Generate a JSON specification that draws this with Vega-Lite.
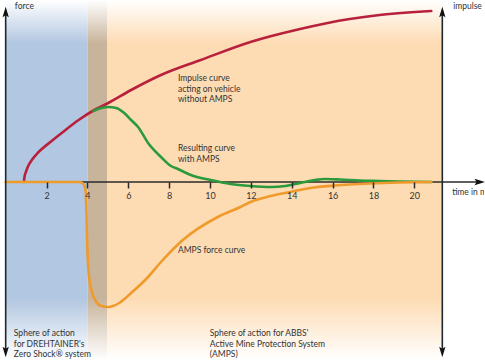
{
  "$schema": "https://vega.github.io/schema/vega-lite/v6.json",
  "width": 485,
  "height": 360,
  "padding": 0,
  "autosize": {"type": "fit", "contains": "padding"},
  "background": "#ffffff",
  "config": {"view": {"stroke": null}, "font": "Lato"},
  "datasets": {
    "bands": [
      {"zone": "blue", "t": 0, "t2": 4.0},
      {"zone": "gray", "t": 4.0, "t2": 4.98},
      {"zone": "orange", "t": 4.98, "t2": 21.37}
    ],
    "curves": [
      {"series": "impulse", "t": 0.89, "v": 0},
      {"series": "impulse", "t": 0.92, "v": 5},
      {"series": "impulse", "t": 0.99, "v": 10},
      {"series": "impulse", "t": 1.08, "v": 15},
      {"series": "impulse", "t": 1.28, "v": 22},
      {"series": "impulse", "t": 1.52, "v": 28},
      {"series": "impulse", "t": 1.77, "v": 33},
      {"series": "impulse", "t": 2.25, "v": 41},
      {"series": "impulse", "t": 2.74, "v": 49},
      {"series": "impulse", "t": 3.57, "v": 62},
      {"series": "impulse", "t": 4.34, "v": 72},
      {"series": "impulse", "t": 5.02, "v": 79},
      {"series": "impulse", "t": 6.14, "v": 92},
      {"series": "impulse", "t": 7.6, "v": 107},
      {"series": "impulse", "t": 9.55, "v": 122},
      {"series": "impulse", "t": 11.98, "v": 140},
      {"series": "impulse", "t": 14.41, "v": 153},
      {"series": "impulse", "t": 16.84, "v": 163},
      {"series": "impulse", "t": 18.3, "v": 167},
      {"series": "impulse", "t": 20.83, "v": 171},
      {"series": "resulting", "t": 4.3, "v": 71},
      {"series": "resulting", "t": 4.68, "v": 74},
      {"series": "resulting", "t": 5.02, "v": 75},
      {"series": "resulting", "t": 5.41, "v": 74},
      {"series": "resulting", "t": 5.8, "v": 69},
      {"series": "resulting", "t": 6.14, "v": 62},
      {"series": "resulting", "t": 6.48, "v": 55},
      {"series": "resulting", "t": 6.97, "v": 39},
      {"series": "resulting", "t": 7.6, "v": 25},
      {"series": "resulting", "t": 8.09, "v": 16},
      {"series": "resulting", "t": 8.43, "v": 13},
      {"series": "resulting", "t": 9.06, "v": 7},
      {"series": "resulting", "t": 10.03, "v": 2},
      {"series": "resulting", "t": 11.01, "v": -2},
      {"series": "resulting", "t": 11.98, "v": -4},
      {"series": "resulting", "t": 12.96, "v": -5},
      {"series": "resulting", "t": 13.69, "v": -4},
      {"series": "resulting", "t": 14.41, "v": -1},
      {"series": "resulting", "t": 15.14, "v": 2},
      {"series": "resulting", "t": 15.63, "v": 3},
      {"series": "resulting", "t": 16.36, "v": 2.5},
      {"series": "resulting", "t": 17.33, "v": 1.5},
      {"series": "resulting", "t": 18.3, "v": 1},
      {"series": "resulting", "t": 19.28, "v": 0.5},
      {"series": "resulting", "t": 20.83, "v": 0},
      {"series": "amps", "t": 0, "v": 0},
      {"series": "amps", "t": 3.61, "v": 0},
      {"series": "amps", "t": 3.76, "v": -1},
      {"series": "amps", "t": 3.86, "v": -4},
      {"series": "amps", "t": 3.91, "v": -9},
      {"series": "amps", "t": 3.95, "v": -28},
      {"series": "amps", "t": 3.98, "v": -55},
      {"series": "amps", "t": 4.05, "v": -88},
      {"series": "amps", "t": 4.2, "v": -108},
      {"series": "amps", "t": 4.44, "v": -120},
      {"series": "amps", "t": 4.68, "v": -124},
      {"series": "amps", "t": 5.02, "v": -125},
      {"series": "amps", "t": 5.56, "v": -121},
      {"series": "amps", "t": 6.14, "v": -111},
      {"series": "amps", "t": 6.97, "v": -95},
      {"series": "amps", "t": 7.6, "v": -80},
      {"series": "amps", "t": 8.67, "v": -58},
      {"series": "amps", "t": 10.38, "v": -35},
      {"series": "amps", "t": 11.49, "v": -25},
      {"series": "amps", "t": 11.98, "v": -20},
      {"series": "amps", "t": 12.96, "v": -14},
      {"series": "amps", "t": 13.93, "v": -10},
      {"series": "amps", "t": 14.9, "v": -6},
      {"series": "amps", "t": 16.11, "v": -3.5},
      {"series": "amps", "t": 17.82, "v": -1.5},
      {"series": "amps", "t": 19.28, "v": -0.5},
      {"series": "amps", "t": 20.83, "v": 0}
    ],
    "hAxis": [{"t": 0, "t2": 23.2, "v": 0}],
    "vAxes": [
      {"side": "left", "t": 0, "v": -168, "v2": 168},
      {"side": "right", "t": 21.37, "v": -168, "v2": 168}
    ],
    "arrows": [
      {"dir": "up", "side": "left", "t": 0, "v": 170},
      {"dir": "down", "side": "left", "t": 0, "v": -170},
      {"dir": "up", "side": "right", "t": 21.37, "v": 170},
      {"dir": "down", "side": "right", "t": 21.37, "v": -170},
      {"dir": "right", "side": "x", "t": 23.2, "v": 0}
    ],
    "labels": [
      {"t": 0.45, "v": 180, "text": "force"},
      {"t": 21.9, "v": 180, "text": "impulse"},
      {"t": 21.85, "v": -6, "text": "time in ms"},
      {"t": 8.43, "v": 108, "text": "Impulse curve\nacting on vehicle\nwithout AMPS"},
      {"t": 8.43, "v": 38, "text": "Resulting curve\nwith AMPS"},
      {"t": 8.43, "v": -64, "text": "AMPS force curve"},
      {"t": 0.4, "v": -147, "text": "Sphere of action\nfor DREHTAINER's\nZero Shock® system"},
      {"t": 9.99, "v": -147, "text": "Sphere of action for ABBS'\nActive Mine Protection System\n(AMPS)"}
    ]
  },
  "layer": [
    {
      "data": {"name": "bands"},
      "transform": [{"filter": "datum.zone === 'blue'"}],
      "mark": {"type": "rect", "fill": {"gradient": "linear", "x1": 0, "y1": 0, "x2": 0, "y2": 1, "stops": [{"offset": 0, "color": "#ffffff"}, {"offset": 0.12, "color": "#b2c7e1"}, {"offset": 0.83, "color": "#b2c7e1"}, {"offset": 1, "color": "#ffffff"}]}},
      "encoding": {
        "x": {"field": "t", "type": "quantitative", "scale": {"domain": [-0.18, 23.41], "nice": false, "zero": false}, "axis": {"values": [2, 4, 6, 8, 10, 12, 14, 16, 18, 20], "title": null, "domain": false, "grid": false, "offset": -178, "tickSize": 6, "tickWidth": 1.5, "tickColor": "#2a2a2a", "labelFontSize": 9, "labelColor": "#333333", "labelPadding": 3, "labelFont": "Lato", "zindex": 2}},
        "x2": {"field": "t2"}
      }
    },
    {
      "data": {"name": "bands"},
      "transform": [{"filter": "datum.zone === 'gray'"}],
      "mark": {"type": "rect", "fill": {"gradient": "linear", "x1": 0, "y1": 0, "x2": 0, "y2": 1, "stops": [{"offset": 0, "color": "#ffffff"}, {"offset": 0.12, "color": "#c8b49b"}, {"offset": 0.83, "color": "#c8b49b"}, {"offset": 1, "color": "#ffffff"}]}},
      "encoding": {
        "x": {"field": "t", "type": "quantitative", "scale": {"domain": [-0.18, 23.41], "nice": false, "zero": false}, "axis": {"values": [2, 4, 6, 8, 10, 12, 14, 16, 18, 20], "title": null, "domain": false, "grid": false, "offset": -178, "tickSize": 6, "tickWidth": 1.5, "tickColor": "#2a2a2a", "labelFontSize": 9, "labelColor": "#333333", "labelPadding": 3, "labelFont": "Lato", "zindex": 2}},
        "x2": {"field": "t2"}
      }
    },
    {
      "data": {"name": "bands"},
      "transform": [{"filter": "datum.zone === 'orange'"}],
      "mark": {"type": "rect", "fill": {"gradient": "linear", "x1": 0, "y1": 0, "x2": 0, "y2": 1, "stops": [{"offset": 0, "color": "#ffffff"}, {"offset": 0.12, "color": "#fddcb4"}, {"offset": 0.83, "color": "#fddcb4"}, {"offset": 1, "color": "#ffffff"}]}},
      "encoding": {
        "x": {"field": "t", "type": "quantitative", "scale": {"domain": [-0.18, 23.41], "nice": false, "zero": false}, "axis": {"values": [2, 4, 6, 8, 10, 12, 14, 16, 18, 20], "title": null, "domain": false, "grid": false, "offset": -178, "tickSize": 6, "tickWidth": 1.5, "tickColor": "#2a2a2a", "labelFontSize": 9, "labelColor": "#333333", "labelPadding": 3, "labelFont": "Lato", "zindex": 2}},
        "x2": {"field": "t2"}
      }
    },
    {
      "data": {"name": "hAxis"},
      "mark": {"type": "rule", "stroke": "#2a2a2a", "strokeWidth": 1.5},
      "encoding": {
        "x": {"field": "t", "type": "quantitative", "scale": {"domain": [-0.18, 23.41], "nice": false, "zero": false}, "axis": {"values": [2, 4, 6, 8, 10, 12, 14, 16, 18, 20], "title": null, "domain": false, "grid": false, "offset": -178, "tickSize": 6, "tickWidth": 1.5, "tickColor": "#2a2a2a", "labelFontSize": 9, "labelColor": "#333333", "labelPadding": 3, "labelFont": "Lato", "zindex": 2}},
        "x2": {"field": "t2"},
        "y": {"field": "v", "type": "quantitative", "scale": {"domain": [-178, 182], "nice": false, "zero": false}, "axis": null}
      }
    },
    {
      "data": {"name": "curves"},
      "mark": {"type": "line", "strokeWidth": 2.6, "interpolate": "monotone", "strokeCap": "round"},
      "encoding": {
        "x": {"field": "t", "type": "quantitative", "scale": {"domain": [-0.18, 23.41], "nice": false, "zero": false}, "axis": {"values": [2, 4, 6, 8, 10, 12, 14, 16, 18, 20], "title": null, "domain": false, "grid": false, "offset": -178, "tickSize": 6, "tickWidth": 1.5, "tickColor": "#2a2a2a", "labelFontSize": 9, "labelColor": "#333333", "labelPadding": 3, "labelFont": "Lato", "zindex": 2}},
        "y": {"field": "v", "type": "quantitative", "scale": {"domain": [-178, 182], "nice": false, "zero": false}, "axis": null},
        "color": {"field": "series", "type": "nominal", "scale": {"domain": ["impulse", "resulting", "amps"], "range": ["#b8203c", "#2a9a3c", "#f09a2c"]}, "legend": null},
        "order": {"field": "t", "type": "quantitative"}
      }
    },
    {
      "data": {"name": "vAxes"},
      "mark": {"type": "rule", "strokeWidth": 1.6, "stroke": "#1e2630"},
      "encoding": {
        "x": {"field": "t", "type": "quantitative", "scale": {"domain": [-0.18, 23.41], "nice": false, "zero": false}, "axis": {"values": [2, 4, 6, 8, 10, 12, 14, 16, 18, 20], "title": null, "domain": false, "grid": false, "offset": -178, "tickSize": 6, "tickWidth": 1.5, "tickColor": "#2a2a2a", "labelFontSize": 9, "labelColor": "#333333", "labelPadding": 3, "labelFont": "Lato", "zindex": 2}},
        "y": {"field": "v", "type": "quantitative", "scale": {"domain": [-178, 182], "nice": false, "zero": false}, "axis": null},
        "y2": {"field": "v2"}
      }
    },
    {
      "data": {"name": "arrows"},
      "mark": {"type": "point", "filled": true, "size": 110, "opacity": 1, "fill": "#111111", "stroke": null},
      "encoding": {
        "x": {"field": "t", "type": "quantitative", "scale": {"domain": [-0.18, 23.41], "nice": false, "zero": false}, "axis": {"values": [2, 4, 6, 8, 10, 12, 14, 16, 18, 20], "title": null, "domain": false, "grid": false, "offset": -178, "tickSize": 6, "tickWidth": 1.5, "tickColor": "#2a2a2a", "labelFontSize": 9, "labelColor": "#333333", "labelPadding": 3, "labelFont": "Lato", "zindex": 2}},
        "y": {"field": "v", "type": "quantitative", "scale": {"domain": [-178, 182], "nice": false, "zero": false}, "axis": null},
        "shape": {"field": "dir", "type": "nominal", "scale": {"domain": ["up", "down", "right"], "range": ["M0,-1L0.6,1L0,0.6L-0.6,1Z", "M0,1L0.6,-1L0,-0.6L-0.6,-1Z", "M1,0L-1,0.6L-0.6,0L-1,-0.6Z"]}, "legend": null}
      }
    },
    {
      "data": {"name": "labels"},
      "mark": {"type": "text", "align": "left", "baseline": "top", "fontSize": 8.5, "font": "Lato", "lineBreak": "\n", "lineHeight": 10.5, "color": "#333333", "clip": true},
      "encoding": {
        "x": {"field": "t", "type": "quantitative", "scale": {"domain": [-0.18, 23.41], "nice": false, "zero": false}, "axis": {"values": [2, 4, 6, 8, 10, 12, 14, 16, 18, 20], "title": null, "domain": false, "grid": false, "offset": -178, "tickSize": 6, "tickWidth": 1.5, "tickColor": "#2a2a2a", "labelFontSize": 9, "labelColor": "#333333", "labelPadding": 3, "labelFont": "Lato", "zindex": 2}},
        "y": {"field": "v", "type": "quantitative", "scale": {"domain": [-178, 182], "nice": false, "zero": false}, "axis": null},
        "text": {"field": "text", "type": "nominal"}
      }
    }
  ]
}
